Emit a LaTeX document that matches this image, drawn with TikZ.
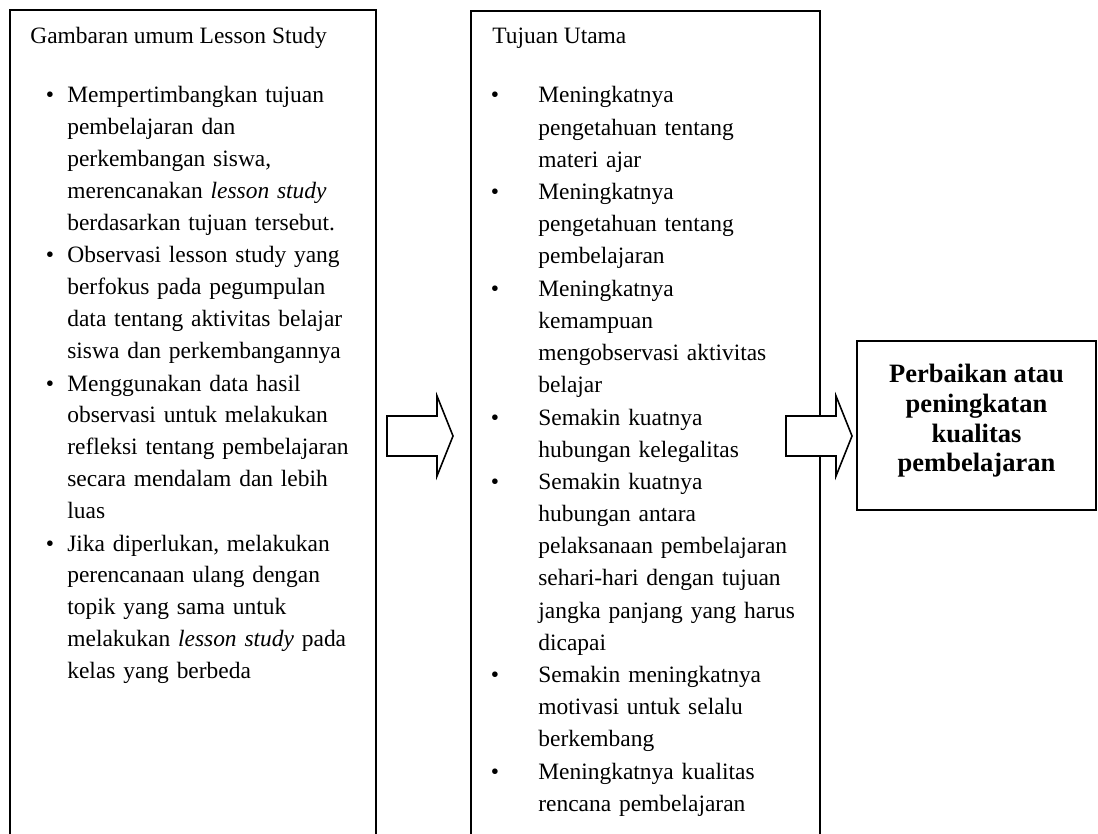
\documentclass[tikz,border=0pt]{standalone}
\usepackage{fontspec}
\setmainfont{Liberation Serif}
\usetikzlibrary{positioning}

\tikzset{
  blockarrow/.pic={
    \draw[line width=0.9pt, fill=white] (0,-20) -- (50,-20) -- (50,-40) -- (66,0)
      -- (50,40) -- (50,20) -- (0,20) -- cycle;
  }
}

\begin{document}
\begin{tikzpicture}[x=0.02cm, y=-0.02cm,
    body/.style={font=\fontsize{13.35}{18.2}\selectfont, inner sep=0pt},
    panel/.style={draw, line width=0.9pt, anchor=north west, minimum height=17cm},
    paneltitle/.style={body, anchor=base west},
    bulletdot/.style={body, anchor=base},
    entry/.style={body, anchor=base west, align=left, text width=#1},
    goalentry/.style={entry=5.6cm, font=\fontsize{13.35}{18.32}\selectfont},
    outcomebox/.style={draw, line width=0.9pt, minimum width=4.78cm, minimum height=3.38cm},
  ]
    \useasboundingbox (0,0) rectangle (1098,834);
    \clip (0,0) rectangle (1098,834);

    % frames
    \node[panel, minimum width=7.32cm] (overview) at (9,9) {};
    \node[panel, minimum width=6.98cm] (goals) at (470,10) {};
    \node[outcomebox] (outcome) at (976.5,425.5) {};

    % left panel
    \node[paneltitle] (overviewtitle) at (30,44) {Gambaran umum Lesson Study};
    \node[bulletdot] (ob1) at (50,103) {\textbullet};
    \node[entry=6cm] (ov1) at (67,103) {Mempertimbangkan tujuan\\pembelajaran dan\\perkembangan siswa,\\merencanakan \textit{lesson study}\\berdasarkan tujuan tersebut.};
    \node[bulletdot] (ob2) at (50,263) {\textbullet};
    \node[entry=6cm] (ov2) at (67,263) {Observasi lesson study yang\\berfokus pada pegumpulan\\data tentang aktivitas belajar\\siswa dan perkembangannya};
    \node[bulletdot] (ob3) at (50,391) {\textbullet};
    \node[entry=6cm] (ov3) at (67,391) {Menggunakan data hasil\\observasi untuk melakukan\\refleksi tentang pembelajaran\\secara mendalam dan lebih\\luas};
    \node[bulletdot] (ob4) at (50,551) {\textbullet};
    \node[entry=6cm] (ov4) at (67,551) {Jika diperlukan, melakukan\\perencanaan ulang dengan\\topik yang sama untuk\\melakukan \textit{lesson study} pada\\kelas yang berbeda};

    % middle panel
    \node[paneltitle] (goalstitle) at (492,44) {Tujuan Utama};
    \node[bulletdot] (gb1) at (495,103) {\textbullet};
    \node[goalentry] (go1) at (538,103) {Meningkatnya\\pengetahuan tentang\\materi ajar};
    \node[bulletdot] (gb2) at (495,199.6) {\textbullet};
    \node[goalentry] (go2) at (538,199.6) {Meningkatnya\\pengetahuan tentang\\pembelajaran};
    \node[bulletdot] (gb3) at (495,296.2) {\textbullet};
    \node[goalentry] (go3) at (538,296.2) {Meningkatnya\\kemampuan\\mengobservasi aktivitas\\belajar};
    \node[bulletdot] (gb4) at (495,425) {\textbullet};
    \node[goalentry] (go4) at (538,425) {Semakin kuatnya\\hubungan kelegalitas};
    \node[bulletdot] (gb5) at (495,489.4) {\textbullet};
    \node[goalentry] (go5) at (538,489.4) {Semakin kuatnya\\hubungan antara\\pelaksanaan pembelajaran\\sehari-hari dengan tujuan\\jangka panjang yang harus\\dicapai};
    \node[bulletdot] (gb6) at (495,682.6) {\textbullet};
    \node[goalentry] (go6) at (538,682.6) {Semakin meningkatnya\\motivasi untuk selalu\\berkembang};
    \node[bulletdot] (gb7) at (495,779.2) {\textbullet};
    \node[goalentry] (go7) at (538,779.2) {Meningkatnya kualitas\\rencana pembelajaran};

    % right box
    \node[font=\fontsize{15.1}{16.9}\selectfont\bfseries, align=center, inner sep=0pt]
      (outcomelabel) at (976.5,421) {Perbaikan atau\\peningkatan\\kualitas\\pembelajaran};

    % block arrows
    \pic (arrowa) at (387,436) {blockarrow};
    \pic (arrowb) at (786,436) {blockarrow};
  \end{tikzpicture}
\end{document}
